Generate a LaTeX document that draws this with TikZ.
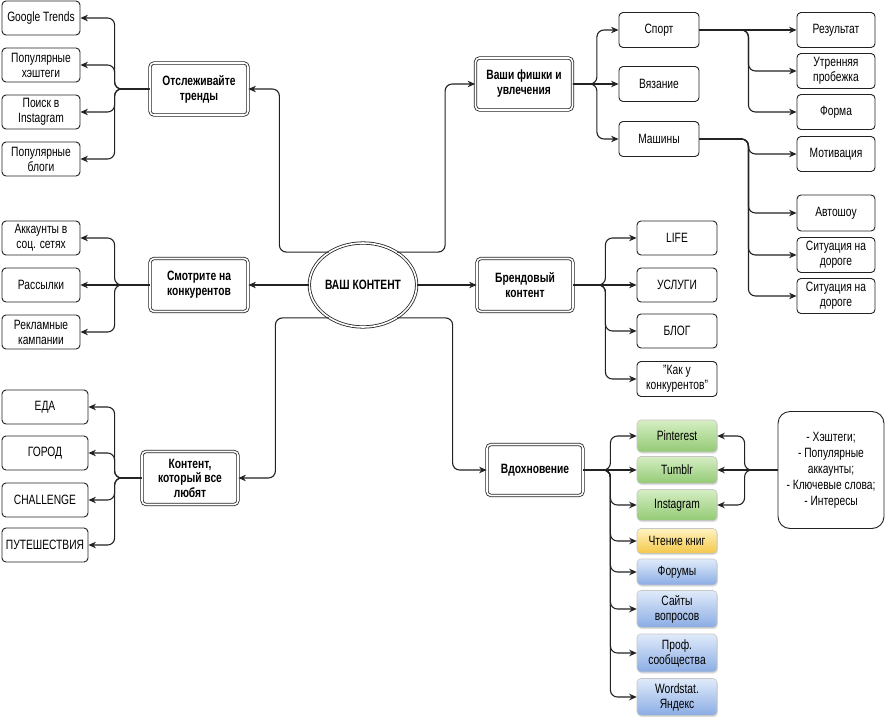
\documentclass[tikz,border=0pt]{standalone}
\usepackage{fontspec}
\setmainfont{Liberation Sans}[FakeStretch=0.76]
\usetikzlibrary{arrows.meta,shapes.geometric,shadows}
\definecolor{lc}{HTML}{222222}
\definecolor{gtop}{HTML}{D5EEC3}
\definecolor{gbot}{HTML}{93CA74}
\definecolor{ytop}{HTML}{FFF3C0}
\definecolor{ybot}{HTML}{F4C74A}
\definecolor{btop}{HTML}{E0EBFA}
\definecolor{bbot}{HTML}{8AACE4}
\tikzset{
  txt/.style={font=\fontsize{13.5}{15}\selectfont, align=center, text=black},
  box/.style={txt, draw=lc, line width=0.9pt, rounded corners=4pt, fill=white,
    minimum width=78pt, minimum height=34pt, inner sep=1pt},
  mainbox/.style={box, double=white, double distance=1.6pt, line width=0.8pt,
    minimum width=96pt, minimum height=51pt, font=\fontsize{13.5}{15}\selectfont\bfseries},
  cbox/.style={txt, draw=gray!45, line width=0.6pt, rounded corners=4pt,
    minimum width=80pt, inner sep=1pt, shading=axis,
    drop shadow={opacity=0.25, shadow xshift=0.8pt, shadow yshift=-1.5pt}},
  green/.style={cbox, top color=gtop, bottom color=gbot},
  yellow/.style={cbox, top color=ytop, bottom color=ybot},
  blue/.style={cbox, top color=btop, bottom color=bbot},
  arr/.style={-{Stealth[length=7.5pt,width=6.5pt]}, draw=lc, line width=1.1pt, rounded corners=7pt},
}
\begin{document}
\begin{tikzpicture}[x=1pt,y=-1pt]
\useasboundingbox[fill=white] (0,0) rectangle (886,720);

% centre
\node[txt, ellipse, draw=lc, double=white, double distance=1.6pt, line width=0.8pt,
  minimum width=104pt, minimum height=84pt, inner sep=0pt, font=\fontsize{13.5}{15}\selectfont\bfseries]
  (ell) at (363,285) {ВАШ КОНТЕНТ};

% left top group
\node[mainbox, minimum width=98pt, minimum height=52pt] (otsl) at (199,89) {Отслеживайте\\тренды};
\node[box] (gt) at (41,18) {Google Trends};
\node[box] (ph) at (41,65) {Популярные\\хэштеги};
\node[box] (pi) at (41,112) {Поиск в\\Instagram};
\node[box] (pb) at (41,159) {Популярные\\блоги};

% left middle group
\node[mainbox, minimum width=98pt, minimum height=53pt] (smot) at (199,285) {Смотрите на\\конкурентов};
\node[box] (ak) at (41,238) {Аккаунты в\\соц. сетях};
\node[box] (ras) at (41,285) {Рассылки};
\node[box] (rek) at (41,332) {Рекламные\\кампании};

% left bottom group
\node[mainbox, minimum height=53pt, font=\fontsize{13.5}{14.5}\selectfont\bfseries] (kont) at (190,478) {Контент,\\который все\\любят};
\node[box, minimum width=86pt] (eda) at (45,407) {ЕДА};
\node[box, minimum width=86pt] (gor) at (45,453) {ГОРОД};
\node[box, minimum width=86pt] (chal) at (45,500) {CHALLENGE};
\node[box, minimum width=86pt] (put) at (45,545) {ПУТЕШЕСТВИЯ};

% right top group
\node[mainbox, minimum width=97pt, minimum height=52pt] (fish) at (524,84) {Ваши фишки и\\увлечения};
\node[box, minimum width=80pt, minimum height=35pt] (sport) at (659,30) {Спорт};
\node[box, minimum width=80pt, minimum height=35pt] (vyaz) at (659,84) {Вязание};
\node[box, minimum width=80pt, minimum height=35pt] (mash) at (659,139) {Машины};
\node[box, minimum height=35pt] (res) at (836,30) {Результат};
\node[box, minimum height=35pt] (utr) at (836,71) {Утренняя\\пробежка};
\node[box, minimum height=35pt] (forma) at (836,112) {Форма};
\node[box, minimum height=35pt] (motiv) at (836,154) {Мотивация};
\node[box, minimum height=36pt] (avto) at (836,213) {Автошоу};
\node[box, minimum height=35pt] (sit1) at (836,255) {Ситуация на\\дороге};
\node[box, minimum height=35pt] (sit2) at (836,296) {Ситуация на\\дороге};

% brand group
\node[mainbox, minimum height=53pt] (brand) at (525,285) {Брендовый\\контент};
\node[box, minimum width=80pt] (life) at (677,238) {LIFE};
\node[box, minimum width=80pt] (usl) at (677,285) {УСЛУГИ};
\node[box, minimum width=80pt] (blog) at (677,331) {БЛОГ};
\node[box, minimum width=80pt, minimum height=35pt] (kak) at (677,379) {"Как у\\конкурентов"};

% inspiration group
\node[mainbox] (vdoh) at (535,470) {Вдохновение};
\node[green, minimum height=32pt] (pin) at (677,436) {Pinterest};
\node[green, minimum height=27pt] (tum) at (677,470) {Tumblr};
\node[green, minimum height=31pt] (inst) at (677,505) {Instagram};
\node[yellow, minimum height=25pt] (cht) at (677,541) {Чтение книг};
\node[blue, minimum height=26pt] (forum) at (677,572) {Форумы};
\node[blue, minimum height=37pt] (sayt) at (677,609) {Сайты\\вопросов};
\node[blue, minimum height=38pt] (prof) at (677,653) {Проф.\\сообщества};
\node[blue, minimum height=37pt] (word) at (677,697) {Wordstat.\\Яндекс};
\node[txt, draw=lc, line width=0.9pt, rounded corners=12pt, fill=white,
  minimum width=106pt, minimum height=117pt, font=\fontsize{13.5}{16}\selectfont]
  (hint) at (831,470) {- Хэштеги;\\- Популярные\\аккаунты;\\- Ключевые слова;\\- Интересы};

% centre connectors
\draw[arr] (ell.136) -| ([xshift=31pt]otsl.east) -- (otsl.east);
\draw[arr] (ell.44) -| ([xshift=-30pt]fish.west) -- (fish.west);
\draw[arr] (ell.west) -- (smot.east);
\draw[arr] (ell.east) -- (brand.west);
\draw[arr] (ell.224) -| ([xshift=37pt]kont.east) -- (kont.east);
\draw[arr] (ell.316) -| ([xshift=-34pt]vdoh.west) -- (vdoh.west);

% left groups
\foreach \c in {gt,ph,pi,pb} \draw[arr] (otsl.west) -- ++(-35,0) |- (\c.east);
\foreach \c in {ak,rek} \draw[arr] (smot.west) -- ++(-35,0) |- (\c.east);
\draw[arr] (smot.west) -- (ras.east);
\foreach \c in {eda,gor,chal,put} \draw[arr] (kont.west) -- ++(-27,0) |- (\c.east);

% right top group
\foreach \c in {sport,mash} \draw[arr] (fish.east) -- ++(24,0) |- (\c.west);
\draw[arr] (fish.east) -- (vyaz.west);
\draw[arr] (sport.east) -- (res.west);
\foreach \c in {utr,forma} \draw[arr] (sport.east) -- ++(49,0) |- (\c.west);
\foreach \c in {motiv,avto,sit1,sit2} \draw[arr] (mash.east) -- ++(49,0) |- (\c.west);

% brand group
\foreach \c in {life,blog,kak} \draw[arr] (brand.east) -- ++(32,0) |- (\c.west);
\draw[arr] (brand.east) -- (usl.west);

% inspiration group
\foreach \c in {pin,inst,cht,forum,sayt,prof,word} \draw[arr] (vdoh.east) -- ++(27,0) |- (\c.west);
\draw[arr] (vdoh.east) -- (tum.west);
\foreach \c in {pin,inst} \draw[arr] (hint.west) -- ++(-33,0) |- (\c.east);
\draw[arr] (hint.west) -- (tum.east);
\end{tikzpicture}
\end{document}
